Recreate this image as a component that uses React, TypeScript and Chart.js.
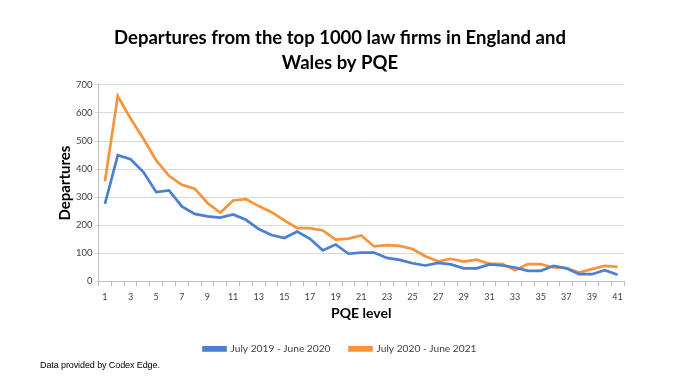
import React, { useEffect, useRef } from "react";
import { Chart, registerables } from "chart.js";

Chart.register(...registerables);

const pqeLevels: string[] = Array.from({ length: 41 }, (_, i) => String(i + 1));

const series2019: number[] = [
  276, 449, 435, 389, 318, 324, 267, 240, 231, 227,
  238, 219, 186, 165, 154, 177, 151, 110, 131, 98,
  102, 102, 83, 76, 64, 56, 65, 60, 46, 46,
  60, 56, 49, 37, 37, 55, 46, 25, 25, 39, 23,
];

const series2020: number[] = [
  356, 660, 580, 508, 431, 376, 344, 330, 279, 244,
  288, 293, 268, 246, 217, 189, 189, 181, 148, 152,
  163, 124, 129, 126, 115, 89, 71, 80, 70, 77,
  62, 62, 39, 61, 61, 49, 47, 31, 43, 55, 51,
];

const seriesLabels: string[] = ["July 2019 - June 2020", "July 2020 - June 2021"];
const titleLines: string[] = ["Departures from the top 1000 law firms in England and", "Wales by PQE"];
const footnote = "Data provided by Codex Edge.";

export default function App() {
  const canvasRef = useRef<HTMLCanvasElement | null>(null);

  useEffect(() => {
    document.body.style.margin = "0";
    const ctx = canvasRef.current;
    if (!ctx) return;
    const chart = new Chart(ctx, {
      type: "line",
      data: {
        labels: pqeLevels,
        datasets: [
          {
            label: seriesLabels[0],
            data: series2019,
            borderColor: "#4a7fd1",
            backgroundColor: "#4a7fd1",
            borderWidth: 2.7,
            pointRadius: 0,
            tension: 0,
          },
          {
            label: seriesLabels[1],
            data: series2020,
            borderColor: "#f7933a",
            backgroundColor: "#f7933a",
            borderWidth: 2.7,
            pointRadius: 0,
            tension: 0,
          },
        ],
      },
      options: {
        animation: false,
        responsive: false,
        maintainAspectRatio: false,
        layout: { padding: { left: 56, right: 54, top: 12, bottom: 17 } },
        plugins: {
          title: {
            display: true,
            text: titleLines,
            color: "#000",
            font: { family: "Lato", size: 18.5, weight: "bold", lineHeight: 1.35 },
            padding: { top: 14, bottom: 9 },
          },
          legend: {
            position: "bottom",
            labels: {
              boxWidth: 22,
              boxHeight: 3,
              color: "#404040",
              font: { family: "Lato", size: 10.2 },
              padding: 19,
            },
          },
          tooltip: { enabled: false },
        },
        scales: {
          x: {
            offset: true,
            grid: {
              display: true,
              offset: true,
              drawOnChartArea: false,
              drawTicks: true,
              tickLength: 5,
              color: "#bfbfbf",
            },
            border: { color: "#bfbfbf" },
            ticks: {
              autoSkip: false,
              maxRotation: 0,
              color: "#404040",
              font: { family: "Lato", size: 9 },
              padding: 5,
              callback: (_v: any, i: number) => (i % 2 === 0 ? pqeLevels[i] : ""),
            },
            title: {
              display: true,
              text: "PQE level",
              color: "#000",
              font: { family: "Lato", size: 14, weight: "bold" },
              padding: { top: -2, bottom: 3 },
            },
          },
          y: {
            min: 0,
            max: 700,
            ticks: {
              stepSize: 100,
              color: "#404040",
              font: { family: "Lato", size: 9.5 },
              padding: 2,
            },
            grid: { color: "#d9d9d9", drawTicks: true, tickLength: 4 },
            border: { color: "#bfbfbf" },
            title: {
              display: true,
              text: "Departures",
              color: "#000",
              font: { family: "Lato", size: 15, weight: "bold" },
              padding: { top: 0, bottom: 0 },
            },
          },
        },
      },
    });
    return () => chart.destroy();
  }, []);

  return (
    <div style={{ position: "relative", width: 678, height: 381, background: "#fff" }}>
      <canvas ref={canvasRef} width={678} height={381} style={{ display: "block" }} />
      <div
        style={{
          position: "absolute",
          left: 40,
          top: 360,
          fontFamily: "'Liberation Sans', Arial, sans-serif",
          fontSize: 9,
          color: "#000",
          letterSpacing: "-0.1px",
        }}
      >
        {footnote}
      </div>
    </div>
  );
}
